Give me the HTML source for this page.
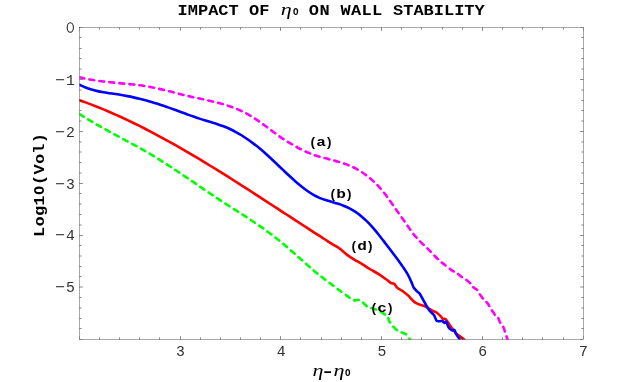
<!DOCTYPE html>
<html><head><meta charset="utf-8">
<style>
html,body{margin:0;padding:0;background:#fff;}
svg{display:block;}
.tk text{font-family:"Liberation Mono",monospace;font-size:16.8px;fill:#303030;}
.mono{font-family:"Liberation Mono",monospace;font-weight:bold;fill:#000;}
.eta{font-family:"Liberation Serif",serif;font-style:italic;font-weight:normal;fill:#000;}
</style></head><body>
<svg width="617" height="382" viewBox="0 0 617 382">
<rect width="617" height="382" fill="#fff"/>
<defs><filter id="gs" x="-5%" y="-5%" width="110%" height="110%" color-interpolation-filters="sRGB"><feColorMatrix type="saturate" values="0"/></filter><clipPath id="cp"><rect x="79.5" y="27.5" width="504.0" height="312.0"/></clipPath></defs>
<g fill="none" stroke-width="2.6" stroke-linejoin="round" stroke-linecap="round" clip-path="url(#cp)">
<path d="M79.50,77.28 C80.50,77.51 83.50,78.25 85.50,78.67 C87.50,79.10 89.50,79.47 91.50,79.82 C93.50,80.16 95.50,80.47 97.50,80.76 C99.50,81.05 101.50,81.30 103.50,81.54 C105.50,81.78 107.50,81.99 109.50,82.20 C111.50,82.41 113.50,82.60 115.50,82.79 C117.50,82.98 119.50,83.16 121.50,83.35 C123.50,83.54 125.50,83.73 127.50,83.93 C129.50,84.13 131.50,84.33 133.50,84.56 C135.50,84.79 137.50,85.02 139.50,85.29 C141.50,85.56 143.50,85.85 145.50,86.17 C147.50,86.49 149.50,86.85 151.50,87.23 C153.50,87.62 155.50,88.04 157.50,88.48 C159.50,88.92 161.50,89.39 163.50,89.87 C165.50,90.35 167.50,90.85 169.50,91.35 C171.50,91.85 173.50,92.37 175.50,92.88 C177.50,93.39 179.50,93.90 181.50,94.40 C183.50,94.90 185.50,95.40 187.50,95.88 C189.50,96.35 191.50,96.81 193.50,97.26 C195.50,97.70 197.50,98.13 199.50,98.56 C201.50,98.99 203.50,99.41 205.50,99.85 C207.50,100.29 209.50,100.72 211.50,101.19 C213.50,101.66 215.50,102.14 217.50,102.66 C219.50,103.17 221.50,103.71 223.50,104.30 C225.50,104.89 227.50,105.52 229.50,106.20 C231.50,106.89 233.50,107.61 235.50,108.41 C237.50,109.22 239.50,110.07 241.50,111.01 C243.50,111.95 245.50,112.96 247.50,114.06 C249.50,115.16 251.50,116.34 253.50,117.61 C255.50,118.88 257.50,120.27 259.50,121.67 C261.50,123.08 263.50,124.58 265.50,126.06 C267.50,127.54 269.50,129.07 271.50,130.55 C273.50,132.03 275.50,133.53 277.50,134.95 C279.50,136.37 281.50,137.75 283.50,139.08 C285.50,140.40 287.50,141.67 289.50,142.89 C291.50,144.11 293.50,145.29 295.50,146.40 C297.50,147.51 299.50,148.56 301.50,149.55 C303.50,150.54 305.50,151.48 307.50,152.34 C309.50,153.20 311.50,153.99 313.50,154.72 C315.50,155.44 317.50,156.08 319.50,156.68 C321.50,157.29 323.50,157.81 325.50,158.34 C327.50,158.88 329.50,159.36 331.50,159.89 C333.50,160.41 335.50,160.91 337.50,161.48 C339.50,162.05 341.50,162.63 343.50,163.31 C345.50,163.99 347.50,164.71 349.50,165.55 C351.50,166.40 353.50,167.32 355.50,168.38 C357.50,169.44 359.50,170.61 361.50,171.91 C363.50,173.22 365.50,174.65 367.50,176.22 C369.50,177.79 371.50,179.49 373.50,181.36 C375.50,183.23 377.50,185.23 379.50,187.43 C381.50,189.63 383.50,191.98 385.50,194.56 C387.50,197.13 389.50,200.04 391.50,202.88 C393.50,205.71 395.50,208.72 397.50,211.57 C399.50,214.41 401.50,217.11 403.50,219.94 C405.50,222.77 407.50,225.79 409.50,228.55 C411.50,231.31 413.50,234.13 415.50,236.51 C417.50,238.89 419.50,240.84 421.50,242.83 C423.50,244.81 425.50,246.44 427.50,248.42 C429.50,250.40 431.50,252.66 433.50,254.70 C435.50,256.74 437.60,258.97 439.50,260.67 C441.40,262.37 442.85,263.30 444.90,264.91 C446.95,266.51 449.90,269.02 451.80,270.30 C453.70,271.58 454.68,271.52 456.30,272.60 C457.92,273.68 459.75,275.53 461.50,276.80 C463.25,278.07 465.15,278.93 466.80,280.20 C468.45,281.47 470.32,283.22 471.40,284.40 C472.48,285.58 472.43,286.47 473.30,287.30 C474.17,288.13 475.72,288.53 476.60,289.40 C477.48,290.27 477.73,291.22 478.60,292.50 C479.47,293.78 480.83,295.83 481.80,297.10 C482.77,298.37 483.40,299.02 484.40,300.10 C485.40,301.18 486.82,302.28 487.80,303.60 C488.78,304.92 489.37,306.50 490.30,308.00 C491.23,309.50 492.42,311.17 493.40,312.60 C494.38,314.03 495.40,315.72 496.20,316.60 C497.00,317.48 497.65,317.13 498.20,317.90 C498.75,318.67 498.97,320.10 499.50,321.20 C500.03,322.30 500.75,323.52 501.40,324.50 C502.05,325.48 502.85,326.02 503.40,327.10 C503.95,328.18 504.27,329.68 504.70,331.00 C505.13,332.32 505.57,333.68 506.00,335.00 C506.43,336.32 506.98,337.90 507.30,338.90 C507.62,339.90 507.80,340.65 507.90,341.00" stroke="#ff00ff" stroke-dasharray="4.9 5.18"/>
<path d="M79.50,100.22 C80.50,100.58 83.50,101.63 85.50,102.37 C87.50,103.10 89.50,103.85 91.50,104.61 C93.50,105.38 95.50,106.16 97.50,106.96 C99.50,107.76 101.50,108.58 103.50,109.41 C105.50,110.24 107.50,111.09 109.50,111.95 C111.50,112.81 113.50,113.69 115.50,114.58 C117.50,115.47 119.50,116.38 121.50,117.30 C123.50,118.22 125.50,119.15 127.50,120.10 C129.50,121.05 131.50,122.01 133.50,122.99 C135.50,123.96 137.50,124.95 139.50,125.95 C141.50,126.95 143.50,127.97 145.50,128.99 C147.50,130.02 149.50,131.05 151.50,132.10 C153.50,133.15 155.50,134.21 157.50,135.28 C159.50,136.35 161.50,137.44 163.50,138.53 C165.50,139.62 167.50,140.73 169.50,141.84 C171.50,142.95 173.50,144.08 175.50,145.21 C177.50,146.34 179.50,147.48 181.50,148.64 C183.50,149.79 185.50,150.95 187.50,152.11 C189.50,153.28 191.50,154.46 193.50,155.65 C195.50,156.83 197.50,158.02 199.50,159.22 C201.50,160.42 203.50,161.63 205.50,162.84 C207.50,164.06 209.50,165.28 211.50,166.51 C213.50,167.74 215.50,168.97 217.50,170.21 C219.50,171.45 221.50,172.69 223.50,173.95 C225.50,175.20 227.50,176.45 229.50,177.71 C231.50,178.97 233.50,180.24 235.50,181.51 C237.50,182.78 239.50,184.05 241.50,185.33 C243.50,186.61 245.50,187.89 247.50,189.18 C249.50,190.46 251.50,191.75 253.50,193.04 C255.50,194.33 257.50,195.62 259.50,196.92 C261.50,198.22 263.50,199.51 265.50,200.81 C267.50,202.11 269.50,203.41 271.50,204.72 C273.50,206.02 275.50,207.32 277.50,208.63 C279.50,209.93 281.50,211.24 283.50,212.54 C285.50,213.85 287.50,215.15 289.50,216.46 C291.50,217.76 293.50,219.07 295.50,220.37 C297.50,221.67 299.50,222.97 301.50,224.28 C303.50,225.58 305.50,226.88 307.50,228.17 C309.50,229.47 311.50,230.77 313.50,232.06 C315.50,233.35 317.50,234.64 319.50,235.93 C321.50,237.22 323.50,238.50 325.50,239.78 C327.50,241.06 329.40,242.33 331.50,243.62 C333.60,244.90 336.35,246.35 338.10,247.50 C339.85,248.65 340.65,249.40 342.00,250.50 C343.35,251.60 344.68,252.92 346.20,254.10 C347.72,255.28 349.30,256.42 351.10,257.60 C352.90,258.78 355.10,260.07 357.00,261.20 C358.90,262.33 360.23,263.02 362.50,264.40 C364.77,265.78 367.90,267.88 370.60,269.50 C373.30,271.12 376.00,272.38 378.70,274.10 C381.40,275.82 384.77,278.32 386.80,279.80 C388.83,281.28 389.68,282.33 390.90,283.00 C392.12,283.67 393.02,282.98 394.10,283.80 C395.18,284.62 396.18,286.82 397.40,287.90 C398.62,288.98 399.63,289.05 401.40,290.30 C403.17,291.55 406.07,293.67 408.00,295.40 C409.93,297.13 411.63,299.42 413.00,300.70 C414.37,301.98 415.03,302.43 416.20,303.10 C417.37,303.77 418.63,304.22 420.00,304.70 C421.37,305.18 422.98,305.40 424.40,306.00 C425.82,306.60 427.15,307.48 428.50,308.30 C429.85,309.12 431.17,310.20 432.50,310.90 C433.83,311.60 435.15,311.63 436.50,312.50 C437.85,313.37 439.52,315.02 440.60,316.10 C441.68,317.18 442.18,318.52 443.00,319.00 C443.82,319.48 444.55,318.27 445.50,319.00 C446.45,319.73 447.62,321.85 448.70,323.40 C449.78,324.95 450.65,326.53 452.00,328.30 C453.35,330.07 454.92,332.25 456.80,334.00 C458.68,335.75 461.85,337.63 463.30,338.80 C464.75,339.97 465.13,340.63 465.50,341.00" stroke="#ff0000"/>
<path d="M79.50,84.76 C80.50,85.22 83.50,86.73 85.50,87.54 C87.50,88.35 89.50,89.01 91.50,89.61 C93.50,90.21 95.50,90.69 97.50,91.13 C99.50,91.57 101.50,91.92 103.50,92.27 C105.50,92.61 107.50,92.89 109.50,93.19 C111.50,93.49 113.50,93.76 115.50,94.07 C117.50,94.38 119.50,94.69 121.50,95.04 C123.50,95.38 125.50,95.75 127.50,96.13 C129.50,96.52 131.50,96.93 133.50,97.36 C135.50,97.79 137.50,98.25 139.50,98.73 C141.50,99.21 143.50,99.71 145.50,100.24 C147.50,100.78 149.50,101.33 151.50,101.92 C153.50,102.50 155.50,103.11 157.50,103.75 C159.50,104.39 161.50,105.06 163.50,105.74 C165.50,106.42 167.50,107.13 169.50,107.85 C171.50,108.56 173.50,109.29 175.50,110.03 C177.50,110.76 179.50,111.50 181.50,112.24 C183.50,112.97 185.50,113.71 187.50,114.44 C189.50,115.16 191.50,115.89 193.50,116.58 C195.50,117.28 197.50,117.97 199.50,118.63 C201.50,119.29 203.50,119.93 205.50,120.54 C207.50,121.15 209.50,121.72 211.50,122.32 C213.50,122.92 215.50,123.50 217.50,124.15 C219.50,124.80 221.50,125.46 223.50,126.23 C225.50,127.00 227.50,127.83 229.50,128.76 C231.50,129.68 233.50,130.69 235.50,131.78 C237.50,132.87 239.50,134.03 241.50,135.27 C243.50,136.51 245.50,137.83 247.50,139.22 C249.50,140.61 251.50,142.07 253.50,143.59 C255.50,145.12 257.50,146.71 259.50,148.37 C261.50,150.03 263.50,151.76 265.50,153.53 C267.50,155.30 269.50,157.15 271.50,159.01 C273.50,160.88 275.50,162.79 277.50,164.69 C279.50,166.59 281.50,168.53 283.50,170.42 C285.50,172.31 287.50,174.21 289.50,176.05 C291.50,177.89 293.50,179.72 295.50,181.45 C297.50,183.19 299.50,184.89 301.50,186.48 C303.50,188.06 305.50,189.59 307.50,190.98 C309.50,192.37 311.50,193.67 313.50,194.82 C315.50,195.96 317.50,196.98 319.50,197.85 C321.50,198.73 323.50,199.41 325.50,200.07 C327.50,200.74 329.50,201.26 331.50,201.84 C333.50,202.42 335.50,202.93 337.50,203.57 C339.50,204.21 341.50,204.87 343.50,205.68 C345.50,206.48 347.50,207.37 349.50,208.41 C351.50,209.46 353.50,210.61 355.50,211.93 C357.50,213.26 359.50,214.72 361.50,216.39 C363.50,218.05 365.50,219.90 367.50,221.91 C369.50,223.92 371.50,226.15 373.50,228.45 C375.50,230.76 377.50,233.23 379.50,235.73 C381.50,238.23 383.50,240.85 385.50,243.44 C387.50,246.03 389.50,248.65 391.50,251.29 C393.50,253.94 395.50,256.55 397.50,259.31 C399.50,262.07 401.87,265.44 403.50,267.83 C405.13,270.21 406.27,271.89 407.30,273.63 C408.33,275.38 408.92,276.66 409.70,278.30 C410.48,279.94 411.32,281.93 412.00,283.50 C412.68,285.07 413.05,286.48 413.80,287.70 C414.55,288.92 415.55,289.85 416.50,290.80 C417.45,291.75 418.70,292.45 419.50,293.40 C420.30,294.35 420.77,295.57 421.30,296.50 C421.83,297.43 422.13,298.00 422.70,299.00 C423.27,300.00 424.02,301.27 424.70,302.50 C425.38,303.73 425.92,304.95 426.80,306.40 C427.68,307.85 428.78,309.72 430.00,311.20 C431.22,312.68 433.02,313.73 434.10,315.30 C435.18,316.87 435.60,319.62 436.50,320.60 C437.40,321.58 438.55,321.13 439.50,321.20 C440.45,321.27 441.35,320.72 442.20,321.00 C443.05,321.28 443.92,322.77 444.60,322.90 C445.28,323.03 445.62,321.03 446.30,321.80 C446.98,322.57 447.75,326.07 448.70,327.50 C449.65,328.93 451.05,330.00 452.00,330.40 C452.95,330.80 453.73,329.32 454.40,329.90 C455.07,330.48 455.18,332.42 456.00,333.90 C456.82,335.38 458.55,337.62 459.30,338.80 C460.05,339.98 460.30,340.63 460.50,341.00" stroke="#0000ff"/>
<path d="M79.50,114.04 C80.50,114.67 83.50,116.61 85.50,117.85 C87.50,119.09 89.50,120.30 91.50,121.48 C93.50,122.67 95.50,123.83 97.50,124.98 C99.50,126.12 101.50,127.24 103.50,128.36 C105.50,129.47 107.50,130.56 109.50,131.65 C111.50,132.74 113.50,133.81 115.50,134.89 C117.50,135.96 119.50,137.03 121.50,138.10 C123.50,139.17 125.50,140.24 127.50,141.31 C129.50,142.39 131.50,143.47 133.50,144.56 C135.50,145.65 137.50,146.75 139.50,147.87 C141.50,148.99 143.50,150.11 145.50,151.27 C147.50,152.42 149.50,153.59 151.50,154.78 C153.50,155.98 155.50,157.20 157.50,158.44 C159.50,159.67 161.50,160.93 163.50,162.21 C165.50,163.48 167.50,164.77 169.50,166.08 C171.50,167.38 173.50,168.70 175.50,170.03 C177.50,171.36 179.50,172.70 181.50,174.05 C183.50,175.39 185.50,176.75 187.50,178.11 C189.50,179.46 191.50,180.83 193.50,182.19 C195.50,183.56 197.50,184.92 199.50,186.29 C201.50,187.65 203.50,189.01 205.50,190.37 C207.50,191.73 209.50,193.08 211.50,194.42 C213.50,195.76 215.50,197.10 217.50,198.43 C219.50,199.75 221.50,201.06 223.50,202.36 C225.50,203.67 227.50,204.95 229.50,206.23 C231.50,207.52 233.50,208.79 235.50,210.07 C237.50,211.35 239.50,212.63 241.50,213.91 C243.50,215.20 245.50,216.49 247.50,217.80 C249.50,219.10 251.50,220.42 253.50,221.76 C255.50,223.10 257.50,224.45 259.50,225.84 C261.50,227.23 263.50,228.63 265.50,230.08 C267.50,231.52 269.50,232.99 271.50,234.50 C273.50,236.02 275.50,237.56 277.50,239.15 C279.50,240.74 281.50,242.37 283.50,244.04 C285.50,245.71 287.50,247.44 289.50,249.18 C291.50,250.91 293.50,252.69 295.50,254.46 C297.50,256.24 299.50,258.03 301.50,259.81 C303.50,261.59 305.50,263.38 307.50,265.12 C309.50,266.87 311.50,268.62 313.50,270.30 C315.50,271.99 317.50,273.66 319.50,275.26 C321.50,276.86 323.50,278.40 325.50,279.92 C327.50,281.45 329.50,282.92 331.50,284.41 C333.50,285.91 336.08,287.83 337.50,288.89 C338.92,289.95 338.50,289.70 340.00,290.79 C341.50,291.87 344.83,294.20 346.50,295.40 C348.17,296.60 348.90,297.20 350.00,298.00 C351.10,298.80 352.15,299.82 353.10,300.20 C354.05,300.58 354.83,300.37 355.70,300.30 C356.57,300.23 357.50,299.75 358.30,299.80 C359.10,299.85 359.73,300.17 360.50,300.60 C361.27,301.03 361.73,301.37 362.90,302.40 C364.07,303.43 365.87,305.78 367.50,306.80 C369.13,307.82 370.73,307.82 372.70,308.50 C374.67,309.18 377.33,309.95 379.30,310.90 C381.27,311.85 383.08,313.22 384.50,314.20 C385.92,315.18 387.03,315.70 387.80,316.80 C388.57,317.90 388.33,319.33 389.10,320.80 C389.87,322.27 390.98,323.97 392.40,325.60 C393.82,327.23 395.87,329.38 397.60,330.60 C399.33,331.82 401.27,332.20 402.80,332.90 C404.33,333.60 405.60,333.70 406.80,334.80 C408.00,335.90 409.37,338.47 410.00,339.50 C410.63,340.53 410.50,340.75 410.60,341.00" stroke="#00ff00" stroke-dasharray="4.9 5.18"/>
</g>
<g stroke="#000" stroke-width="0.34" fill="none">
<rect x="79.5" y="27.5" width="504.0" height="312.0"/>
</g>
<g stroke="#000" stroke-width="0.46">
<line x1="79.50" y1="339.50" x2="79.50" y2="336.10" stroke-width="0.2"/>
<line x1="79.50" y1="27.50" x2="79.50" y2="30.90" stroke-width="0.2"/>
<line x1="99.50" y1="339.50" x2="99.50" y2="337.40"/>
<line x1="99.50" y1="27.50" x2="99.50" y2="29.60"/>
<line x1="119.50" y1="339.50" x2="119.50" y2="337.40"/>
<line x1="119.50" y1="27.50" x2="119.50" y2="29.60"/>
<line x1="139.50" y1="339.50" x2="139.50" y2="337.40"/>
<line x1="139.50" y1="27.50" x2="139.50" y2="29.60"/>
<line x1="159.50" y1="339.50" x2="159.50" y2="337.40"/>
<line x1="159.50" y1="27.50" x2="159.50" y2="29.60"/>
<line x1="180.50" y1="339.50" x2="180.50" y2="336.10"/>
<line x1="180.50" y1="27.50" x2="180.50" y2="30.90"/>
<line x1="200.50" y1="339.50" x2="200.50" y2="337.40"/>
<line x1="200.50" y1="27.50" x2="200.50" y2="29.60"/>
<line x1="220.50" y1="339.50" x2="220.50" y2="337.40"/>
<line x1="220.50" y1="27.50" x2="220.50" y2="29.60"/>
<line x1="240.50" y1="339.50" x2="240.50" y2="337.40"/>
<line x1="240.50" y1="27.50" x2="240.50" y2="29.60"/>
<line x1="260.50" y1="339.50" x2="260.50" y2="337.40"/>
<line x1="260.50" y1="27.50" x2="260.50" y2="29.60"/>
<line x1="280.50" y1="339.50" x2="280.50" y2="336.10"/>
<line x1="280.50" y1="27.50" x2="280.50" y2="30.90"/>
<line x1="300.50" y1="339.50" x2="300.50" y2="337.40"/>
<line x1="300.50" y1="27.50" x2="300.50" y2="29.60"/>
<line x1="321.50" y1="339.50" x2="321.50" y2="337.40"/>
<line x1="321.50" y1="27.50" x2="321.50" y2="29.60"/>
<line x1="341.50" y1="339.50" x2="341.50" y2="337.40"/>
<line x1="341.50" y1="27.50" x2="341.50" y2="29.60"/>
<line x1="361.50" y1="339.50" x2="361.50" y2="337.40"/>
<line x1="361.50" y1="27.50" x2="361.50" y2="29.60"/>
<line x1="381.50" y1="339.50" x2="381.50" y2="336.10"/>
<line x1="381.50" y1="27.50" x2="381.50" y2="30.90"/>
<line x1="401.50" y1="339.50" x2="401.50" y2="337.40"/>
<line x1="401.50" y1="27.50" x2="401.50" y2="29.60"/>
<line x1="421.50" y1="339.50" x2="421.50" y2="337.40"/>
<line x1="421.50" y1="27.50" x2="421.50" y2="29.60"/>
<line x1="442.50" y1="339.50" x2="442.50" y2="337.40"/>
<line x1="442.50" y1="27.50" x2="442.50" y2="29.60"/>
<line x1="462.50" y1="339.50" x2="462.50" y2="337.40"/>
<line x1="462.50" y1="27.50" x2="462.50" y2="29.60"/>
<line x1="482.50" y1="339.50" x2="482.50" y2="336.10"/>
<line x1="482.50" y1="27.50" x2="482.50" y2="30.90"/>
<line x1="502.50" y1="339.50" x2="502.50" y2="337.40"/>
<line x1="502.50" y1="27.50" x2="502.50" y2="29.60"/>
<line x1="522.50" y1="339.50" x2="522.50" y2="337.40"/>
<line x1="522.50" y1="27.50" x2="522.50" y2="29.60"/>
<line x1="542.50" y1="339.50" x2="542.50" y2="337.40"/>
<line x1="542.50" y1="27.50" x2="542.50" y2="29.60"/>
<line x1="563.50" y1="339.50" x2="563.50" y2="337.40"/>
<line x1="563.50" y1="27.50" x2="563.50" y2="29.60"/>
<line x1="583.50" y1="339.50" x2="583.50" y2="336.10" stroke-width="0.2"/>
<line x1="583.50" y1="27.50" x2="583.50" y2="30.90" stroke-width="0.2"/>
<line x1="79.50" y1="27.50" x2="82.90" y2="27.50" stroke-width="0.2"/>
<line x1="583.50" y1="27.50" x2="580.10" y2="27.50" stroke-width="0.2"/>
<line x1="79.50" y1="37.50" x2="81.60" y2="37.50"/>
<line x1="583.50" y1="37.50" x2="581.40" y2="37.50"/>
<line x1="79.50" y1="48.50" x2="81.60" y2="48.50"/>
<line x1="583.50" y1="48.50" x2="581.40" y2="48.50"/>
<line x1="79.50" y1="58.50" x2="81.60" y2="58.50"/>
<line x1="583.50" y1="58.50" x2="581.40" y2="58.50"/>
<line x1="79.50" y1="69.00" x2="81.60" y2="69.00"/>
<line x1="583.50" y1="69.00" x2="581.40" y2="69.00"/>
<line x1="79.50" y1="79.50" x2="82.90" y2="79.50"/>
<line x1="583.50" y1="79.50" x2="580.10" y2="79.50"/>
<line x1="79.50" y1="90.00" x2="81.60" y2="90.00"/>
<line x1="583.50" y1="90.00" x2="581.40" y2="90.00"/>
<line x1="79.50" y1="100.50" x2="81.60" y2="100.50"/>
<line x1="583.50" y1="100.50" x2="581.40" y2="100.50"/>
<line x1="79.50" y1="110.50" x2="81.60" y2="110.50"/>
<line x1="583.50" y1="110.50" x2="581.40" y2="110.50"/>
<line x1="79.50" y1="121.00" x2="81.60" y2="121.00"/>
<line x1="583.50" y1="121.00" x2="581.40" y2="121.00"/>
<line x1="79.50" y1="131.50" x2="82.90" y2="131.50"/>
<line x1="583.50" y1="131.50" x2="580.10" y2="131.50"/>
<line x1="79.50" y1="142.00" x2="81.60" y2="142.00"/>
<line x1="583.50" y1="142.00" x2="581.40" y2="142.00"/>
<line x1="79.50" y1="152.00" x2="81.60" y2="152.00"/>
<line x1="583.50" y1="152.00" x2="581.40" y2="152.00"/>
<line x1="79.50" y1="162.50" x2="81.60" y2="162.50"/>
<line x1="583.50" y1="162.50" x2="581.40" y2="162.50"/>
<line x1="79.50" y1="173.00" x2="81.60" y2="173.00"/>
<line x1="583.50" y1="173.00" x2="581.40" y2="173.00"/>
<line x1="79.50" y1="183.50" x2="82.90" y2="183.50"/>
<line x1="583.50" y1="183.50" x2="580.10" y2="183.50"/>
<line x1="79.50" y1="193.50" x2="81.60" y2="193.50"/>
<line x1="583.50" y1="193.50" x2="581.40" y2="193.50"/>
<line x1="79.50" y1="204.00" x2="81.60" y2="204.00"/>
<line x1="583.50" y1="204.00" x2="581.40" y2="204.00"/>
<line x1="79.50" y1="214.50" x2="81.60" y2="214.50"/>
<line x1="583.50" y1="214.50" x2="581.40" y2="214.50"/>
<line x1="79.50" y1="225.00" x2="81.60" y2="225.00"/>
<line x1="583.50" y1="225.00" x2="581.40" y2="225.00"/>
<line x1="79.50" y1="235.50" x2="82.90" y2="235.50"/>
<line x1="583.50" y1="235.50" x2="580.10" y2="235.50"/>
<line x1="79.50" y1="245.50" x2="81.60" y2="245.50"/>
<line x1="583.50" y1="245.50" x2="581.40" y2="245.50"/>
<line x1="79.50" y1="256.00" x2="81.60" y2="256.00"/>
<line x1="583.50" y1="256.00" x2="581.40" y2="256.00"/>
<line x1="79.50" y1="266.50" x2="81.60" y2="266.50"/>
<line x1="583.50" y1="266.50" x2="581.40" y2="266.50"/>
<line x1="79.50" y1="276.50" x2="81.60" y2="276.50"/>
<line x1="583.50" y1="276.50" x2="581.40" y2="276.50"/>
<line x1="79.50" y1="287.00" x2="82.90" y2="287.00"/>
<line x1="583.50" y1="287.00" x2="580.10" y2="287.00"/>
<line x1="79.50" y1="297.50" x2="81.60" y2="297.50"/>
<line x1="583.50" y1="297.50" x2="581.40" y2="297.50"/>
<line x1="79.50" y1="308.00" x2="81.60" y2="308.00"/>
<line x1="583.50" y1="308.00" x2="581.40" y2="308.00"/>
<line x1="79.50" y1="318.50" x2="81.60" y2="318.50"/>
<line x1="583.50" y1="318.50" x2="581.40" y2="318.50"/>
<line x1="79.50" y1="328.50" x2="81.60" y2="328.50"/>
<line x1="583.50" y1="328.50" x2="581.40" y2="328.50"/>
<line x1="79.50" y1="339.50" x2="82.90" y2="339.50" stroke-width="0.2"/>
<line x1="583.50" y1="339.50" x2="580.10" y2="339.50" stroke-width="0.2"/>
</g>
<g class="tk" filter="url(#gs)">
<text transform="translate(180.30,356.20) scale(0.880,0.910)" text-anchor="middle">3</text>
<text transform="translate(281.10,356.20) scale(0.880,0.910)" text-anchor="middle">4</text>
<text transform="translate(381.90,356.20) scale(0.880,0.910)" text-anchor="middle">5</text>
<text transform="translate(482.70,356.20) scale(0.880,0.910)" text-anchor="middle">6</text>
<text transform="translate(583.50,356.20) scale(0.880,0.910)" text-anchor="middle">7</text>
<text transform="translate(74.90,84.72) scale(0.880,0.910)" text-anchor="end">1</text>
<text transform="translate(65.00,84.72) scale(1.000,0.910)" text-anchor="end">−</text>
<text transform="translate(74.90,136.63) scale(0.880,0.910)" text-anchor="end">2</text>
<text transform="translate(65.00,136.63) scale(1.000,0.910)" text-anchor="end">−</text>
<text transform="translate(74.90,188.54) scale(0.880,0.910)" text-anchor="end">3</text>
<text transform="translate(65.00,188.54) scale(1.000,0.910)" text-anchor="end">−</text>
<text transform="translate(74.90,240.46) scale(0.880,0.910)" text-anchor="end">4</text>
<text transform="translate(65.00,240.46) scale(1.000,0.910)" text-anchor="end">−</text>
<text transform="translate(74.90,292.38) scale(0.880,0.910)" text-anchor="end">5</text>
<text transform="translate(65.00,292.38) scale(1.000,0.910)" text-anchor="end">−</text>
<ellipse cx="70.3" cy="27.50" rx="3.1" ry="4.8" fill="none" stroke="#222" stroke-width="1.05"/>
</g>
<g class="mono" font-size="17" filter="url(#gs)">
<text id="t1" transform="translate(177.6,14.7) scale(1,0.83)" xml:space="preserve">IMPACT OF</text>
<text id="t2" transform="translate(308.8,14.7) scale(1,0.83)" letter-spacing="0.5">ON</text>
<text id="t3" transform="translate(340.6,14.7) scale(1,0.83)" letter-spacing="0.3">WALL</text>
<text id="t4" transform="translate(393.0,14.7) scale(1,0.83)">STABILITY</text>
<text id="teta" class="eta" font-size="17" transform="translate(280.8,14.7) scale(1.3,1)">η</text>
<text id="tsub" font-size="10" transform="translate(293.0,14.9) scale(0.92,1)">O</text>
<text id="ylab" transform="translate(43.5,236.9) rotate(-90) scale(1,0.83)" letter-spacing="0.2">Log1</text>
<text id="ylab0" transform="translate(43.5,194.8) rotate(-90) scale(0.86,0.83)">O</text>
<text id="ylab2" transform="translate(43.5,184.9) rotate(-90) scale(1,0.83)" letter-spacing="0.2">(Vol)</text>
<text id="x1" class="eta" font-size="17" transform="translate(312.6,375.9) scale(1.3,1)">η</text>
<text id="x2" transform="translate(320.5,375.9) scale(1.4,0.83)">-</text>
<text id="x3" class="eta" font-size="17" transform="translate(333.5,375.9) scale(1.3,1)">η</text>
<text id="x4" font-size="10" transform="translate(345.0,376.1) scale(0.92,1)">O</text>
</g>
<g class="mono" font-size="13.4" filter="url(#gs)">
<text transform="translate(309.00,146.20) scale(1,0.985)">(</text><text transform="translate(321.06,146.20) scale(1.2,0.985)" text-anchor="middle">a</text><text transform="translate(325.08,146.20) scale(1,0.985)">)</text>
<text transform="translate(329.00,197.70) scale(1,0.985)">(</text><text transform="translate(341.06,197.70) scale(1.2,0.985)" text-anchor="middle">b</text><text transform="translate(345.08,197.70) scale(1,0.985)">)</text>
<text transform="translate(370.00,311.90) scale(1,0.985)">(</text><text transform="translate(382.06,311.90) scale(1.2,0.985)" text-anchor="middle">c</text><text transform="translate(386.08,311.90) scale(1,0.985)">)</text>
<text transform="translate(350.00,249.70) scale(1,0.985)">(</text><text transform="translate(362.06,249.70) scale(1.2,0.985)" text-anchor="middle">d</text><text transform="translate(366.08,249.70) scale(1,0.985)">)</text>
</g>
</svg>
</body></html>
